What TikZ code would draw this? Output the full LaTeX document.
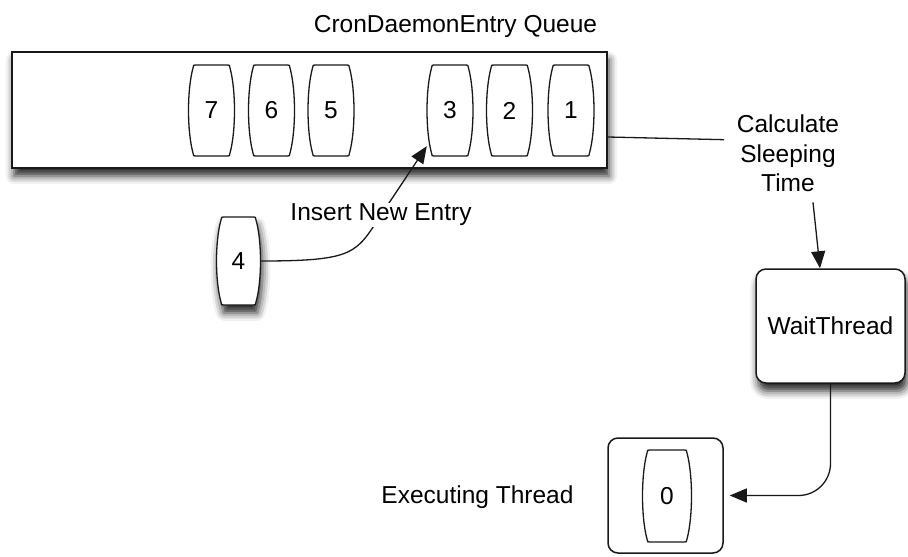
\documentclass[tikz,border=0pt]{standalone}
\usepackage{fontspec}
\setmainfont{Liberation Sans}
\usetikzlibrary{arrows.meta,shadows.blur,calc}

\tikzset{
  lbl/.style={font=\fontsize{24.5}{29.5}\selectfont, inner sep=0pt},
  boxline/.style={draw=black!90, line width=1.5pt, fill=white},
  pillline/.style={draw=black!90, line width=1.3pt, fill=white},
  conn/.style={draw=black!90, line width=1.3pt},
  arr/.style={conn, -{Triangle[length=17pt,width=14pt]}},
  softshadow/.style={blur shadow={shadow xshift=2pt, shadow yshift=-8pt,
      shadow blur radius=8pt, shadow opacity=85}},
}

% barrel-shaped queue entry: name, centre, label, half width, half height, extra style
\newcommand\barrel[6]{%
  \begin{scope}[shift={#2}]
    \path[pillline,#6]
      ({-#4+7},{-#5}) -- ({#4-7},{-#5})
      .. controls ({#4-5},{-#5}) .. ({#4-4.5},{-#5+3})
      .. controls ({#4+1.5},{-#5*0.45}) and ({#4+1.5},{#5*0.45}) .. ({#4-4.5},{#5-3})
      .. controls ({#4-5},{#5}) .. ({#4-7},{#5})
      -- ({-#4+7},{#5})
      .. controls ({-#4+5},{#5}) .. ({-#4+4.5},{#5-3})
      .. controls ({-#4-1.5},{#5*0.45}) and ({-#4-1.5},{-#5*0.45}) .. ({-#4+4.5},{-#5+3})
      .. controls ({-#4+5},{-#5}) .. cycle;
  \end{scope}
  \node[lbl, minimum width={2*#4}, minimum height={2*#5}] (#1) at #2 {#3};
}

\begin{document}
\begin{tikzpicture}[x=1pt, y=-1pt]
  \useasboundingbox (0,0) rectangle (908,557);

  % title and queue
  \node[lbl, anchor=base] (title) at (455.5,32) {CronDaemonEntry Queue};
  \node[boxline, softshadow, minimum width=595, minimum height=116] (queue) at (309.5,110) {};

  \barrel{p7}{(211.5,110.5)}{7}{23}{45.5}{}
  \barrel{p6}{(271.5,110.5)}{6}{23}{45.5}{}
  \barrel{p5}{(331,110.5)}{5}{23}{45.5}{}
  \barrel{p3}{(450,110.5)}{3}{23}{45.5}{}
  \barrel{p2}{(509.5,110.5)}{2}{23}{45.5}{}
  \barrel{p1}{(571,110.5)}{1}{23}{45.5}{}

  % entry waiting to be inserted
  \barrel{p4}{(238.5,261)}{4}{22}{44}{softshadow}

  % sleeping-time computation and wait thread
  \node[lbl, align=center, anchor=north] (calc) at (788,115) {Calculate\\Sleeping\\Time};
  \node[lbl, boxline, softshadow, rounded corners=10pt,
        minimum width=149, minimum height=114] (wait) at (830.5,326) {WaitThread};

  % executing thread
  \node[lbl, anchor=base] (execlbl) at (477.5,503) {Executing Thread};
  \node[boxline, rounded corners=10pt, minimum width=115, minimum height=115] (exec) at (665.5,495.5) {};
  \barrel{p0}{(667,496)}{0}{24.5}{46}{}

  % connectors
  \draw[conn] ([yshift=-27pt]queue.east) -- ([xshift=-12.5pt,yshift=14pt]calc.west);
  \draw[arr] ([xshift=25pt,yshift=-10pt]calc.south) -- ([xshift=-10.5pt]wait.north);
  \draw[arr, rounded corners=32pt] (wait.south) |- ([xshift=6pt]exec.east);

  \coordinate (insmid) at (381,215);
  \draw[arr] (p4.east) .. controls +(95,0) and +(-25,38) .. (insmid)
    -- ([yshift=10pt]p3.south west);
  \node[lbl, fill=white, inner sep=1pt] (inslbl) at (insmid) {Insert New Entry};
\end{tikzpicture}
\end{document}
